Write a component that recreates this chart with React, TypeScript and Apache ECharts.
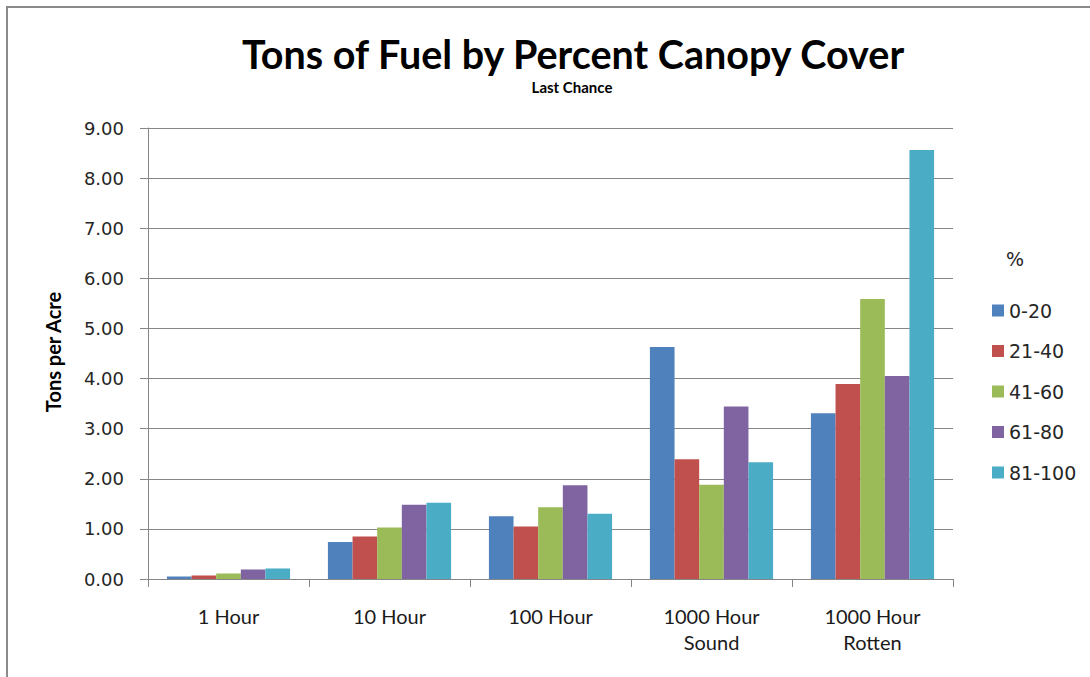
import React, { useEffect, useRef } from "react";
import * as echarts from "echarts";

const categories = ["1 Hour", "10 Hour", "100 Hour", "1000 Hour\nSound", "1000 Hour\nRotten"];
const seriesNames = ["0-20", "21-40", "41-60", "61-80", "81-100"];
const cover0to20 = [0.05, 0.74, 1.25, 4.63, 3.31];
const cover21to40 = [0.07, 0.85, 1.05, 2.39, 3.89];
const cover41to60 = [0.11, 1.03, 1.43, 1.88, 5.59];
const cover61to80 = [0.19, 1.48, 1.87, 3.44, 4.05];
const cover81to100 = [0.21, 1.52, 1.3, 2.33, 8.56];
const seriesValues = [cover0to20, cover21to40, cover41to60, cover61to80, cover81to100];
const colors = ["#4F81BD", "#C0504D", "#9BBB59", "#8064A2", "#4BACC6"];

const TITLE = "Tons of Fuel by Percent Canopy Cover";
const SUBTITLE = "Last Chance";
const Y_NAME = "Tons per Acre";
const LEGEND_TITLE = "%";

export default function App() {
  const ref = useRef<HTMLDivElement>(null);
  useEffect(() => {
    if (!ref.current) return;
    const chart = echarts.init(ref.current, null, { renderer: "svg" });
    const gridColor = "#868686";
    chart.setOption({
      animation: false,
      backgroundColor: "#ffffff",
      color: colors,
      grid: { left: 148, right: 137, top: 128, bottom: 98, containLabel: false },
      xAxis: {
        type: "category",
        data: categories,
        axisLine: { show: true, lineStyle: { color: gridColor, width: 1 } },
        axisTick: { show: true, length: 8, alignWithLabel: false, lineStyle: { color: gridColor } },
        axisLabel: {
          margin: 24,
          fontFamily: "Lato",
          fontSize: 20,
          lineHeight: 26,
          color: "#1a1a1a",
          interval: 0,
        },
        splitLine: { show: false },
      },
      yAxis: {
        type: "value",
        min: 0,
        max: 9,
        interval: 1,
        axisLine: { show: true, lineStyle: { color: gridColor, width: 1 } },
        axisTick: { show: true, length: 8, lineStyle: { color: gridColor } },
        axisLabel: {
          margin: 24,
          fontFamily: "DejaVu Sans",
          fontSize: 18,
          color: "#262626",
          formatter: (v: number) => v.toFixed(2),
        },
        splitLine: { show: true, lineStyle: { color: gridColor, width: 1 } },
      },
      legend: {
        orient: "vertical",
        left: 987,
        top: 296,
        itemWidth: 12,
        itemHeight: 12,
        itemGap: 21.5,
        icon: "rect",
        textStyle: { fontFamily: "DejaVu Sans", fontSize: 19, color: "#262626" },
        data: seriesNames,
      },
      series: seriesNames.map((name, i) => ({
        name,
        type: "bar",
        data: seriesValues[i],
        barGap: "0%",
        barCategoryGap: "23.5%",
        itemStyle: { color: colors[i] },
      })),
      graphic: [
        {
          type: "rect",
          shape: { x: 7, y: 7, width: 1200, height: 800 },
          style: { fill: "none", stroke: "#8a8a8a", lineWidth: 2 },
          silent: true,
        },
        {
          type: "text",
          x: 573,
          y: 53,
          style: {
            text: TITLE,
            fontFamily: "Lato",
            fontWeight: "bold",
            fontSize: 39.5,
            fill: "#000000",
            align: "center",
            verticalAlign: "middle",
          },
        },
        {
          type: "text",
          x: 572,
          y: 87,
          style: {
            text: SUBTITLE,
            fontFamily: "Lato",
            fontWeight: "bold",
            fontSize: 15,
            fill: "#000000",
            align: "center",
            verticalAlign: "middle",
          },
        },
        {
          type: "text",
          x: 53,
          y: 352,
          rotation: Math.PI / 2,
          style: {
            text: Y_NAME,
            fontFamily: "Lato",
            fontWeight: "bold",
            fontSize: 20,
            fill: "#000000",
            align: "center",
            verticalAlign: "middle",
          },
        },
        {
          type: "text",
          x: 1015,
          y: 259,
          style: {
            text: LEGEND_TITLE,
            fontFamily: "DejaVu Sans",
            fontSize: 19,
            fill: "#262626",
            align: "center",
            verticalAlign: "middle",
          },
        },
      ],
    });
    return () => chart.dispose();
  }, []);
  return (
    <div
      ref={ref}
      style={{ position: "absolute", left: 0, top: 0, width: 1090, height: 677 }}
    />
  );
}
